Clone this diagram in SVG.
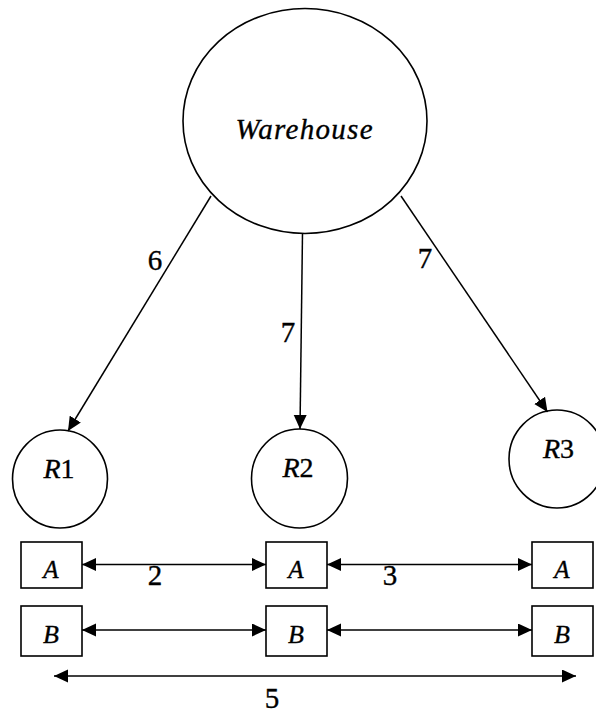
<svg xmlns="http://www.w3.org/2000/svg" width="596" height="713" viewBox="0 0 596 713">
  <style>
    .shape { fill: #ffffff; stroke: #000000; stroke-width: 1.6; }
    .edge { fill: none; stroke: #000000; stroke-width: 1.5; }
    .lbl { font-family: "Liberation Serif", "DejaVu Serif", serif; fill: #000000; stroke: #000000; stroke-width: 0.35; text-anchor: middle; }
    .it { font-style: italic; }
    .num { font-size: 29px; }
  </style>
  <defs>
    <marker id="arrow" markerUnits="userSpaceOnUse" markerWidth="15" markerHeight="14" refX="14" refY="6.5" orient="auto-start-reverse">
      <path d="M0,0 L14,6.5 L0,13 Z" fill="#000000"/>
    </marker>
  </defs>

  <rect width="596" height="713" fill="#ffffff"/>

  <!-- distribution centre -->
  <g id="warehouse">
    <ellipse class="shape" cx="305" cy="121" rx="122" ry="112.5"/>
    <text class="lbl it" x="304" y="139" font-size="29" textLength="137" lengthAdjust="spacing">Warehouse</text>
  </g>

  <!-- retailers -->
  <g id="r1">
    <ellipse class="shape" cx="60" cy="479" rx="47.5" ry="49"/>
    <text class="lbl" x="59" y="478" font-size="28"><tspan class="it">R</tspan>1</text>
  </g>
  <g id="r2">
    <ellipse class="shape" cx="299.5" cy="478.5" rx="48" ry="49.5"/>
    <text class="lbl" x="298" y="477" font-size="28"><tspan class="it">R</tspan>2</text>
  </g>
  <g id="r3">
    <ellipse class="shape" cx="557" cy="459" rx="48" ry="49"/>
    <text class="lbl" x="558.5" y="458" font-size="28"><tspan class="it">R</tspan>3</text>
  </g>

  <!-- product A stock points -->
  <g id="a1">
    <rect class="shape" x="21" y="542" width="61" height="46"/>
    <text class="lbl it" x="51" y="577.5" font-size="25">A</text>
  </g>
  <g id="a2">
    <rect class="shape" x="266" y="542" width="61" height="46"/>
    <text class="lbl it" x="296" y="577.5" font-size="25">A</text>
  </g>
  <g id="a3">
    <rect class="shape" x="532" y="542" width="61" height="46"/>
    <text class="lbl it" x="562" y="577.5" font-size="25">A</text>
  </g>

  <!-- product B stock points -->
  <g id="b1">
    <rect class="shape" x="21" y="606" width="61" height="50"/>
    <text class="lbl it" x="51" y="643" font-size="26">B</text>
  </g>
  <g id="b2">
    <rect class="shape" x="266" y="606" width="61" height="50"/>
    <text class="lbl it" x="296" y="643" font-size="26">B</text>
  </g>
  <g id="b3">
    <rect class="shape" x="532" y="606" width="61" height="50"/>
    <text class="lbl it" x="562" y="643" font-size="26">B</text>
  </g>

  <!-- links -->
  <g id="connectors">
    <line class="edge" x1="211" y1="196" x2="68" y2="431" marker-end="url(#arrow)"/>
    <line class="edge" x1="302.5" y1="233" x2="300" y2="429" marker-end="url(#arrow)"/>
    <line class="edge" x1="401" y1="196" x2="547.5" y2="412" marker-end="url(#arrow)"/>

    <line class="edge" x1="82" y1="564.5" x2="266" y2="564.5" marker-start="url(#arrow)" marker-end="url(#arrow)"/>
    <line class="edge" x1="327" y1="564.5" x2="532" y2="564.5" marker-start="url(#arrow)" marker-end="url(#arrow)"/>
    <line class="edge" x1="82" y1="630" x2="266" y2="630" marker-start="url(#arrow)" marker-end="url(#arrow)"/>
    <line class="edge" x1="327" y1="630" x2="532" y2="630" marker-start="url(#arrow)" marker-end="url(#arrow)"/>

    <line class="edge" x1="54" y1="676" x2="576" y2="676" marker-start="url(#arrow)" marker-end="url(#arrow)"/>

    <text class="lbl num" x="155" y="270">6</text>
    <text class="lbl num" x="288" y="342">7</text>
    <text class="lbl num" x="425" y="268">7</text>
    <text class="lbl num" x="155" y="585">2</text>
    <text class="lbl num" x="390" y="585">3</text>
    <text class="lbl num" x="272" y="708">5</text>
  </g>
</svg>
